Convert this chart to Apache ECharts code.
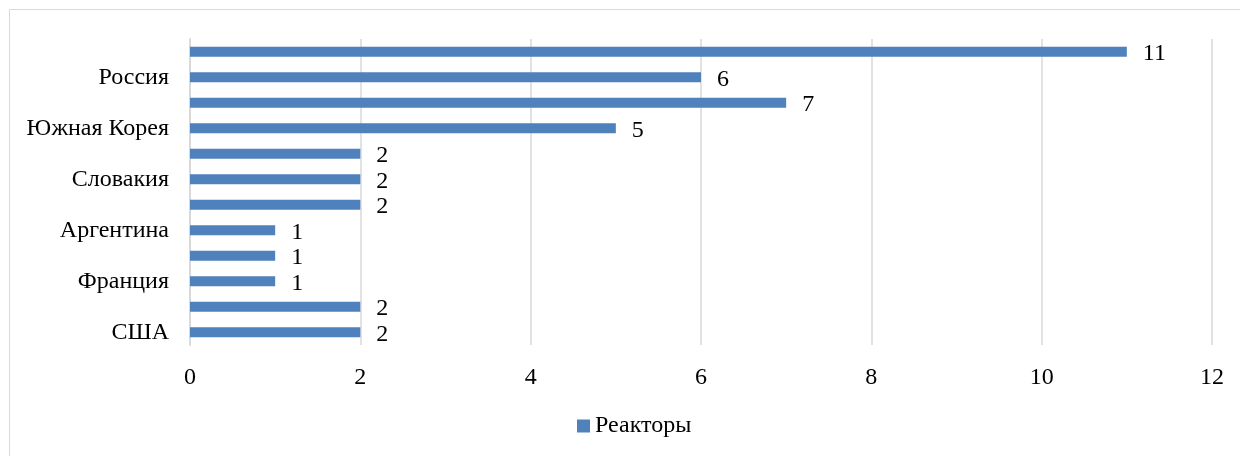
<!DOCTYPE html>
<html>
<head>
<meta charset="utf-8">
<script src="https://cdn.jsdelivr.net/npm/echarts@6/dist/echarts.min.js"></script>
<style>
  html, body { margin: 0; padding: 0; background: #fff; }
  #chart { width: 1240px; height: 456px; }
</style>
</head>
<body>
<div id="chart"></div>
<script>
// bottom to top, as the category axis draws them
const countries = ['США', 'Пакистан', 'Франция', 'Финляндия', 'Аргентина', 'Япония',
                   'Словакия', 'ОАЭ', 'Южная Корея', 'Индия', 'Россия', 'Китай'];
const reactors = [2, 2, 1, 1, 1, 2, 2, 2, 5, 7, 6, 11];
const xTicks = [0, 2, 4, 6, 8, 10, 12];

const font = '"Liberation Serif", "Times New Roman", serif';
const fs = 24;
const myChart = echarts.init(document.querySelector('#chart'));

const option = {
    animation: false,
    graphic: [{
        type: 'rect',
        shape: { x: 9.5, y: 9.5, width: 1300, height: 500 },
        style: { fill: 'none', stroke: '#d9d9d9', lineWidth: 1 }
    }],
    grid: { left: 190, right: 28, top: 39, bottom: 111 },
    xAxis: {
        type: 'value',
        min: xTicks[0],
        max: xTicks[xTicks.length - 1],
        interval: 2,
        axisLine: { show: false },
        axisTick: { show: false },
        axisLabel: { color: '#000', fontFamily: font, fontSize: fs, margin: 21 },
        splitLine: { lineStyle: { color: '#d9d9d9', width: 1.5 } }
    },
    yAxis: {
        type: 'category',
        data: countries,
        axisLine: { lineStyle: { color: '#d9d9d9', width: 2 } },
        axisTick: { show: false },
        axisLabel: { interval: 1, color: '#000', fontFamily: font, fontSize: fs, margin: 21 }
    },
    legend: {
        data: ['Реакторы'],
        top: 409,
        left: 572,
        icon: 'rect',
        itemWidth: 13,
        itemHeight: 13,
        itemGap: 6,
        textStyle: { color: '#000', fontFamily: font, fontSize: fs }
    },
    series: [{
        name: 'Реакторы',
        type: 'bar',
        data: reactors,
        barWidth: 10,
        itemStyle: { color: '#4f81bd' },
        label: {
            show: true,
            position: 'right',
            distance: 16,
            color: '#000',
            fontFamily: font,
            fontSize: fs,
            offset: [0, 2]
        }
    }]
};
myChart.setOption(option);
</script>
</body>
</html>
